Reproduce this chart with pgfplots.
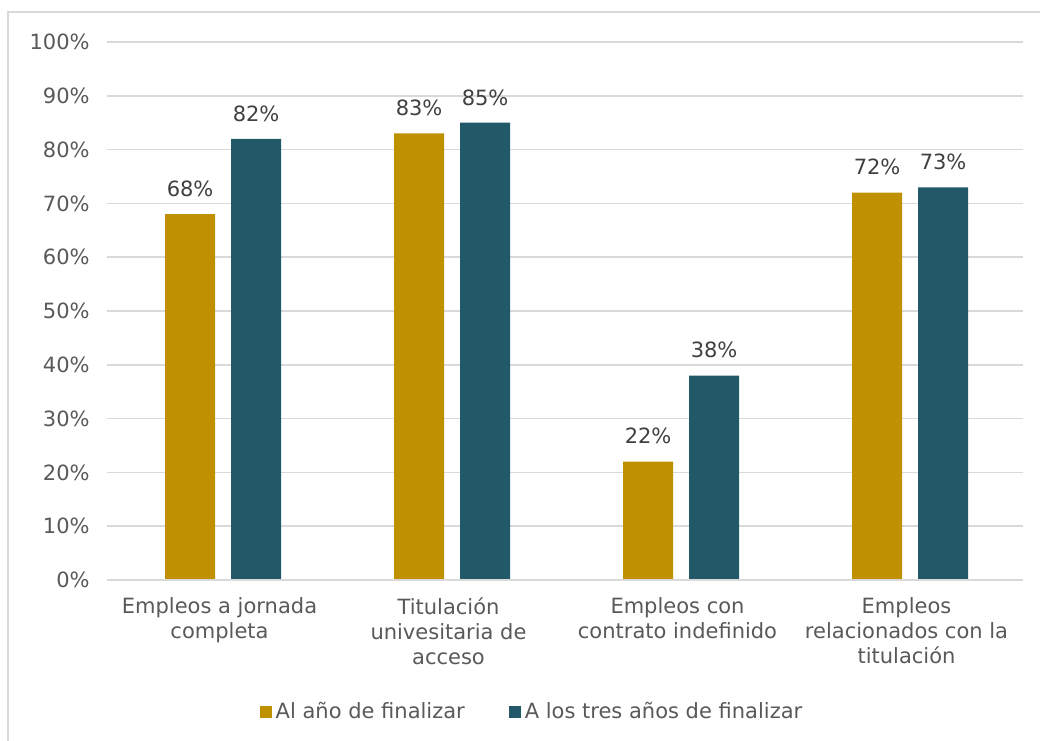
\documentclass[border=0pt]{standalone}
\usepackage{fontspec}
\setmainfont{DejaVu Sans}
\usepackage{pgfplots}
\pgfplotsset{compat=1.18}
\definecolor{gold}{HTML}{BF9000}
\definecolor{tealc}{HTML}{215968}
\definecolor{txt}{HTML}{595959}
\definecolor{lbl}{HTML}{404040}
\definecolor{gridc}{HTML}{D9D9D9}
\begin{document}
\fontsize{10.5}{12.5}\selectfont
\begin{tikzpicture}[x=1pt,y=1pt]
\useasboundingbox (-53.5,-80) rectangle (466.5,290);
\draw[gridc, line width=0.8pt] (-49.5,-81) -- (-49.5,284) -- (467,284);
\begin{axis}[
  at={(0,0)}, anchor=south west,
  scale only axis,
  width=458pt, height=269pt,
  ybar=8pt, bar width=25pt,
  xmin=-0.507, xmax=3.493,
  ymin=0, ymax=100,
  ytick={0,10,...,100},
  yticklabel={\pgfmathprintnumber{\tick}\%},
  xtick={0,1,2,3},
  xticklabels={{Empleos a jornada\\completa},{Titulación\\univesitaria de\\acceso},{Empleos con\\contrato indefinido},{Empleos\\relacionados con la\\titulación}},
  x tick label style={align=center, font=\fontsize{10.5}{12.5}\selectfont, text=txt, yshift=-5pt, xshift=-1.8pt},
  y tick label style={font=\fontsize{10.5}{12.5}\selectfont, text=txt, xshift=-5pt},
  /pgf/number format/assume math mode=true,
  major tick length=0pt,
  axis line style={draw=none},
  ymajorgrids, grid style={gridc, line width=0.8pt},
  axis x line*=bottom, axis y line*=left,
  nodes near coords={\pgfmathprintnumber{\pgfplotspointmeta}\%},
  nodes near coords style={font=\fontsize{10.5}{12.5}\selectfont, text=lbl, yshift=5pt},
  legend style={draw=none, at={(213pt,-66pt)}, anchor=center, legend columns=2,
    font=\fontsize{10.5}{12.5}\selectfont, text=txt,
    /tikz/every even column/.append style={column sep=20pt}},
  legend image code/.code={\fill[#1] (0pt,-3pt) rectangle (6pt,3pt);},
  clip=false,
]
\addplot[fill=gold, draw=none] coordinates {(0,68) (1,83) (2,22) (3,72)};
\addplot[fill=tealc, draw=none] coordinates {(0,82) (1,85) (2,38) (3,73)};
\draw[gridc, line width=0.8pt] (axis cs:-0.507,0) -- (axis cs:3.493,0);
\legend{Al año de finalizar, A los tres años de finalizar}
\end{axis}
\end{tikzpicture}
\end{document}
